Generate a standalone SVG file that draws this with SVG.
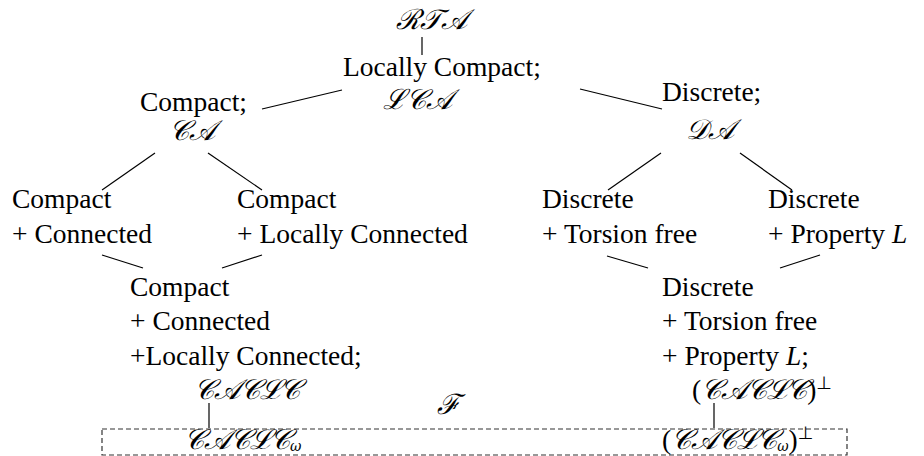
<svg xmlns="http://www.w3.org/2000/svg" width="924" height="456" viewBox="0 0 924 456">
<style>
.t{font-family:"Liberation Serif","Times New Roman",serif;font-size:27.5px;fill:#000}
.s{font-family:"DejaVu Serif","Liberation Serif",serif;font-style:italic;font-size:28px;fill:#000}
.sub{font-size:14px}
.perp{font-family:"DejaVu Sans","Liberation Sans",sans-serif;font-size:18px;fill:#000}
.c{stroke:#000;stroke-width:1.2;fill:none}
.box{stroke:#333;stroke-width:1.2;fill:none;stroke-dasharray:5,3}
</style>
<rect width="924" height="456" fill="#fff"/>
<g id="connectors">
<line class="c" x1="422" y1="37" x2="422" y2="55"/>
<line class="c" x1="262" y1="109" x2="342" y2="90"/>
<line class="c" x1="580" y1="89" x2="662" y2="109"/>
<line class="c" x1="155" y1="153" x2="102" y2="190"/>
<line class="c" x1="208" y1="153" x2="262" y2="190"/>
<line class="c" x1="661" y1="153" x2="608" y2="190"/>
<line class="c" x1="740" y1="153" x2="792" y2="190"/>
<line class="c" x1="102" y1="255" x2="143" y2="268"/>
<line class="c" x1="222" y1="268" x2="262" y2="255"/>
<line class="c" x1="607" y1="256" x2="648" y2="268"/>
<line class="c" x1="780" y1="268" x2="820" y2="255"/>
<line class="c" x1="209" y1="403" x2="209" y2="428"/>
<line class="c" x1="714" y1="403" x2="714" y2="428"/>
</g>
<g id="rta"><text class="s" x="396" y="29">ℛ𝒯𝒜</text></g>
<g id="lca"><text class="t" x="343" y="76">Locally Compact;</text><text class="s" x="383" y="109">ℒ𝒞𝒜</text></g>
<g id="ca"><text class="t" x="140" y="111">Compact;</text><text class="s" x="169" y="140">𝒞𝒜</text></g>
<g id="da"><text class="t" x="662" y="101">Discrete;</text><text class="s" x="686" y="139">𝒟𝒜</text></g>
<g id="cc"><text class="t" x="12" y="208">Compact</text><text class="t" x="12" y="243">+ Connected</text></g>
<g id="clc"><text class="t" x="237" y="208">Compact</text><text class="t" x="237" y="243">+ Locally Connected</text></g>
<g id="dtf"><text class="t" x="542" y="208">Discrete</text><text class="t" x="542" y="243">+ Torsion free</text></g>
<g id="dpl"><text class="t" x="768" y="208">Discrete</text><text class="t" x="768" y="243">+ Property <tspan font-style="italic">L</tspan></text></g>
<g id="caclc"><text class="t" x="130" y="296">Compact</text><text class="t" x="130" y="330">+ Connected</text><text class="t" x="130" y="365">+Locally Connected;</text><text class="s" x="194" y="399">𝒞𝒜𝒞ℒ𝒞</text></g>
<g id="caclcperp"><text class="t" x="662" y="296">Discrete</text><text class="t" x="662" y="330">+ Torsion free</text><text class="t" x="662" y="365">+ Property <tspan font-style="italic">L</tspan>;</text><text class="t" x="692" y="399">(<tspan class="s">𝒞𝒜𝒞ℒ𝒞</tspan>)<tspan class="perp" dy="-10">⊥</tspan></text></g>
<g id="f"><text class="s" x="437" y="414">ℱ</text></g>
<g id="omega">
<rect class="box" x="102" y="429" width="745" height="26"/>
<text class="s" x="184" y="449">𝒞𝒜𝒞ℒ𝒞<tspan class="sub" dy="2">ω</tspan></text>
<text class="t" x="662" y="449">(<tspan class="s">𝒞𝒜𝒞ℒ𝒞</tspan><tspan class="s sub" dy="2">ω</tspan><tspan dy="-2">)</tspan><tspan class="perp" dy="-10">⊥</tspan></text>
</g>
</svg>
